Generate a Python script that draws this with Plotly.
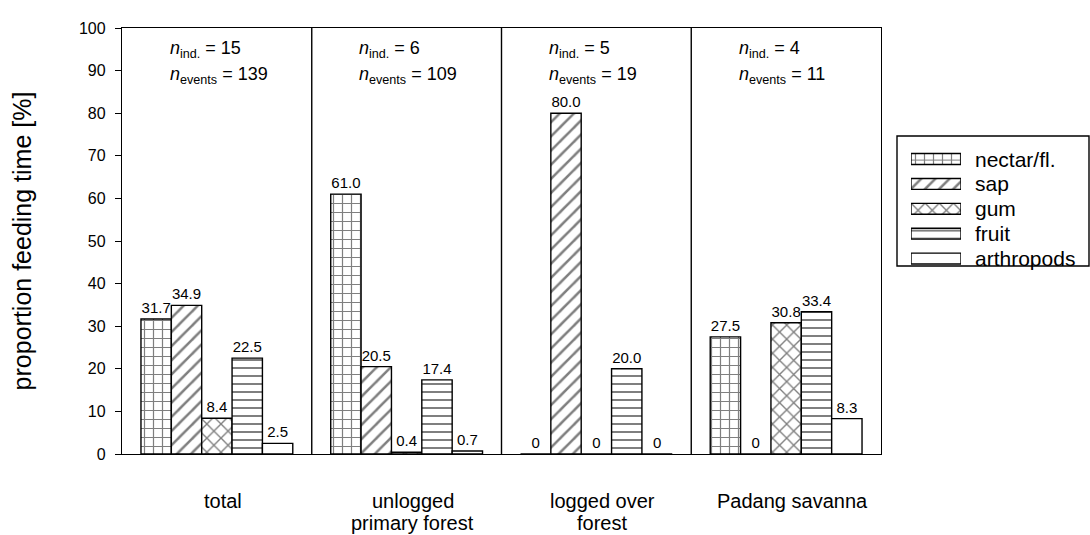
import plotly.graph_objects as go

# Habitat groups shown along the x axis (one list entry per text line)
habitat_lines = [["total"], ["unlogged", "primary forest"], ["logged over", "forest"], ["Padang savanna"]]

# Food categories and their share of feeding time [%] per habitat
food_types = ["nectar/fl.", "sap", "gum", "fruit", "arthropods"]
nectar = [31.7, 61.0, 0.0, 27.5]
sap = [34.9, 20.5, 80.0, 0.0]
gum = [8.4, 0.4, 0.0, 30.8]
fruit = [22.5, 17.4, 20.0, 33.4]
arthropods = [2.5, 0.7, 0.0, 8.3]

# Sample sizes per habitat
n_ind = [15, 6, 5, 4]
n_events = [139, 109, 19, 11]

series = [nectar, sap, gum, fruit, arthropods]
patterns = ["+", "/", "x", "-", ""]
pattern_sizes = [9, 10, 10, 8, 8]

FONT = "Liberation Sans, Arial, sans-serif"
W, H = 1090, 535
ML, MR, MT, MB = 122, 0, 28, 81
PW, PH = W - ML - MR, H - MT - MB
main_right = 881  # right edge of the bar panel in pixels


def px_x(p):
    return (p - ML) / PW


def px_y(p):
    return 1 - (p - MT) / PH


def fmt(v):
    return "0" if v == 0 else f"{v:.1f}"


def pattern(shape, size):
    return dict(shape=shape, fgcolor="black", bgcolor="white",
                size=size, solidity=0.25, fillmode="overlay")


fig = go.Figure()
x_idx = list(range(len(habitat_lines)))
for name, vals, pat, psz in zip(food_types, series, patterns, pattern_sizes):
    fig.add_trace(go.Bar(
        name=name,
        x=x_idx,
        y=vals,
        text=[fmt(v) for v in vals],
        textposition="outside",
        textfont=dict(family=FONT, size=15, color="black"),
        cliponaxis=False,
        showlegend=False,
        marker=dict(color="white", line=dict(color="black", width=1.4),
                    pattern=pattern(pat, psz)),
    ))

# Legend key: one patterned swatch per food type on a small helper axis
rows = list(range(len(food_types)))
for name, row, pat, psz in zip(food_types, rows, patterns, pattern_sizes):
    fig.add_trace(go.Bar(
        x=[1], y=[row], base=0, width=0.44, orientation="h",
        xaxis="x2", yaxis="y2", showlegend=False, hoverinfo="skip",
        marker=dict(color="white", line=dict(color="black", width=1.4),
                    pattern=pattern(pat, psz)),
    ))
    fig.add_annotation(x=px_x(973), y=row, xref="paper", yref="y2",
                       xanchor="left", yanchor="middle", showarrow=False,
                       text=name, font=dict(family=FONT, size=21, color="black"))

# Legend frame
fig.add_shape(type="rect", xref="paper", yref="paper",
              x0=px_x(897), x1=px_x(1089), y0=px_y(266), y1=px_y(136),
              line=dict(color="black", width=1.4), fillcolor="rgba(0,0,0,0)")

# Vertical separators between habitat groups
for b in [0.5, 1.5, 2.5]:
    fig.add_shape(type="line", xref="x", yref="paper", x0=b, x1=b, y0=0, y1=1,
                  line=dict(color="black", width=1.4))

# Sample size annotations in each group
for i, (ni, ne) in enumerate(zip(n_ind, n_events)):
    fig.add_annotation(x=i - 0.26, y=95.0, xref="x", yref="y", xanchor="left",
                       yanchor="middle", showarrow=False,
                       text=f"<i>n</i><sub>ind.</sub> = {ni}",
                       font=dict(family=FONT, size=18, color="black"))
    fig.add_annotation(x=i - 0.26, y=88.8, xref="x", yref="y", xanchor="left",
                       yanchor="middle", showarrow=False,
                       text=f"<i>n</i><sub>events</sub> = {ne}",
                       font=dict(family=FONT, size=18, color="black"))

# Habitat labels below the axis, tightly stacked lines
for i, lines in enumerate(habitat_lines):
    for k, line in enumerate(lines):
        fig.add_annotation(x=i, y=0, xref="x", yref="paper", xanchor="center",
                           yanchor="middle", yshift=-47 - 22 * k, xshift=6,
                           showarrow=False, text=line,
                           font=dict(family=FONT, size=20, color="black"))

fig.update_layout(
    width=W, height=H,
    margin=dict(l=ML, r=MR, t=MT, b=MB),
    paper_bgcolor="white", plot_bgcolor="white",
    barmode="group", bargap=0.2, bargroupgap=0,
    font=dict(family=FONT, color="black"),
    showlegend=False,
    xaxis=dict(
        domain=[0, px_x(main_right)],
        tickmode="array", tickvals=x_idx, showticklabels=False,
        range=[-0.5, 3.5], showgrid=False, zeroline=False,
        showline=True, linecolor="black", linewidth=1.4, mirror=True,
        ticks="", automargin=False,
    ),
    yaxis=dict(
        range=[0, 100], tickmode="linear", tick0=0, dtick=10,
        showgrid=False, zeroline=False,
        showline=True, linecolor="black", linewidth=1.4, mirror=True,
        ticks="outside", ticklen=6, tickcolor="black", tickwidth=1.4,
        ticklabelstandoff=6, automargin=False,
        tickfont=dict(family=FONT, size=16, color="black"),
        title=dict(text="proportion feeding time [%]",
                   font=dict(family=FONT, size=25, color="black"), standoff=40),
    ),
    xaxis2=dict(domain=[px_x(911), px_x(961)], range=[0, 1], visible=False,
                anchor="y2", fixedrange=True),
    yaxis2=dict(domain=[px_y(271), px_y(146.6)], range=[4.5, -0.5], visible=False,
                anchor="x2", fixedrange=True),
)

fig.write_html("out.html")
